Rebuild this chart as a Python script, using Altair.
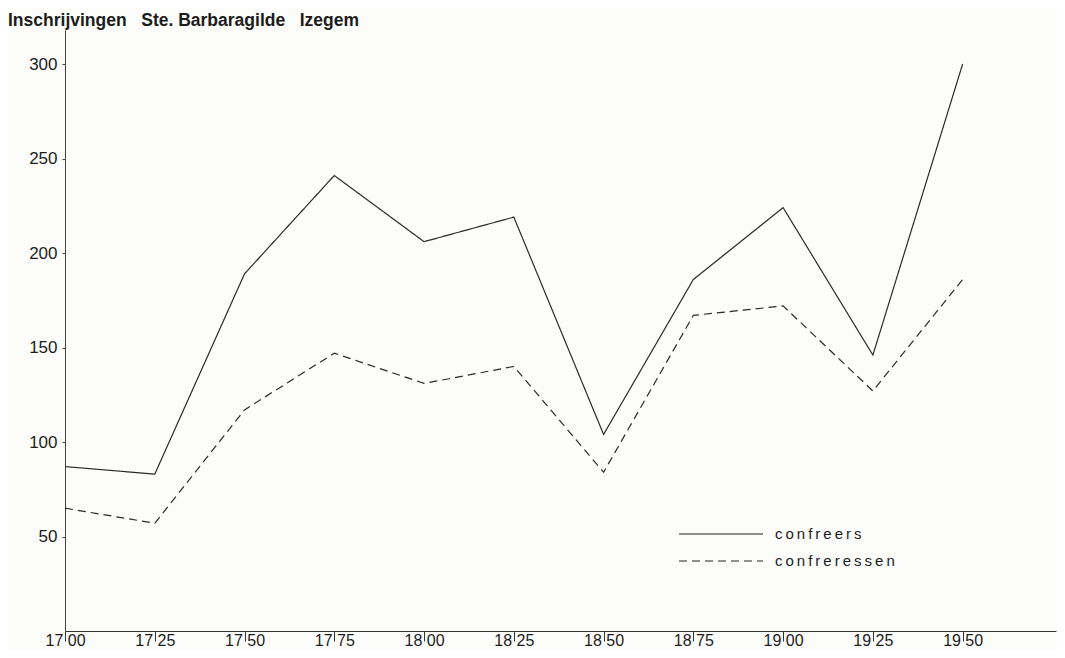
import altair as alt
import pandas as pd

years = [1700, 1725, 1750, 1775, 1800, 1825, 1850, 1875, 1900, 1925, 1950]
confreers = [87, 83, 189, 241, 206, 219, 104, 186, 224, 146, 300]
confreressen = [65, 57, 117, 147, 131, 140, 84, 167, 172, 127, 186]
series_names = ["confreers", "confreressen"]
y_ticks = [50, 100, 150, 200, 250, 300]
x_tick_labels = ["17 00", "17 25", "17 50", "17 75", "18 00", "18 25",
                 "18 50", "18 75", "19 00", "19 25", "19 50"]
title_text = ("Inschrijvingen\u00a0\u00a0\u00a0Ste.\u00a0Barbaragilde"
              "\u00a0\u00a0\u00a0Izegem")

rows = []
for name, vals in zip(series_names, [confreers, confreressen]):
    for yr, v in zip(years, vals):
        rows.append({"jaar": yr, "aantal": v, "reeks": name})
df = pd.DataFrame(rows)

label_expr = ("[" + ",".join("'" + l + "'" for l in x_tick_labels) + "][indexof(["
              + ",".join(str(y) for y in years) + "], datum.value)]")

FONT = "Liberation Sans"
INK = "#1c1c1c"

chart = alt.Chart(df).mark_line(strokeWidth=1.2, color="#2a2a2a").encode(
    x=alt.X("jaar:Q",
            scale=alt.Scale(domain=[1700, 1976], nice=False, zero=False),
            axis=alt.Axis(title=None, values=years, labelExpr=label_expr,
                          grid=False, tickSize=10, labelPadding=-9,
                          labelFontSize=16, labelFont=FONT, labelColor=INK,
                          domainColor="#333", tickColor="#333",
                          labelFlush=False, labelOverlap=False)),
    y=alt.Y("aantal:Q",
            scale=alt.Scale(domain=[0, 318], nice=False),
            axis=alt.Axis(title=None, values=y_ticks, grid=False, tickSize=3,
                          labelPadding=5, labelFontSize=17, labelFont=FONT,
                          labelColor=INK, domainColor="#444", tickColor="#444")),
    strokeDash=alt.StrokeDash("reeks:N",
            scale=alt.Scale(domain=series_names, range=[[1, 0], [8, 5]]),
            legend=alt.Legend(title=None, orient="none", legendX=648, legendY=496,
                              padding=0, symbolType="M-6,0H6", symbolSize=196,
                              symbolStrokeWidth=1.2, symbolStrokeColor="#222",
                              symbolFillColor="transparent", labelOffset=46,
                              labelFont=FONT, labelFontSize=15, labelColor=INK,
                              labelExpr="join(split(datum.label,''),'\u2009')",
                              rowPadding=11)),
    detail="reeks:N",
).properties(
    width=991, height=601,
    padding={"left": 57, "top": 22, "right": 1, "bottom": 19},
    autosize=alt.AutoSizeParams(type="none"),
    background="#fcfcfa",
    title=alt.TitleParams(title_text, anchor="start", frame="group", dx=-57,
                          offset=1,
                          font=FONT, fontSize=17.5, fontWeight="bold", color=INK),
).configure_view(stroke=None)

chart.save("out.html", embed_options={"renderer": "svg", "actions": False})
